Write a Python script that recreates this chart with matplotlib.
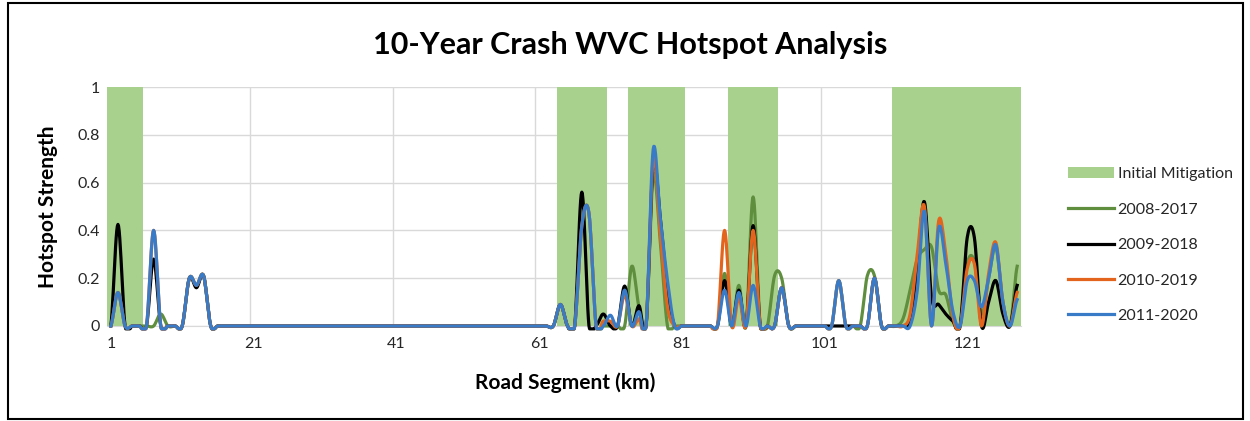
import numpy as np
import matplotlib
matplotlib.use('Agg')
import matplotlib.pyplot as plt
from matplotlib.patches import Rectangle

plt.rcParams['font.family'] = ['Lato', 'DejaVu Sans']

# Road segments (km) 1..128
segments = np.arange(1, 129)

# Initial mitigation zones (1 = mitigated)
mitigation = ([1] * 5 + [0] * 58 +          # 1-63
              [1] * 7 + [0] * 3 +           # 64-73
              [1] * 8 + [0] * 6 +           # 74-87
              [1] * 7 + [0] * 16 +          # 88-110
              [1] * 18)                     # 111-128

# Hotspot strength per segment, 16 values per row
y_2008_2017 = [
    0, 0.14, 0, 0, 0, 0, 0, 0.05, 0, 0, 0, 0.20, 0.17, 0.21, 0, 0,
    0, 0, 0, 0, 0, 0, 0, 0, 0, 0, 0, 0, 0, 0, 0, 0,
    0, 0, 0, 0, 0, 0, 0, 0, 0, 0, 0, 0, 0, 0, 0, 0,
    0, 0, 0, 0, 0, 0, 0, 0, 0, 0, 0, 0, 0, 0, 0, 0.09,
    0, 0, 0.42, 0.47, 0, 0, 0, 0, 0, 0.25, 0.08, 0, 0.63, 0.35, 0, 0,
    0, 0, 0, 0, 0, 0, 0.22, 0, 0.17, 0, 0.54, 0, 0, 0.21, 0.20, 0,
    0, 0, 0, 0, 0, 0, 0.19, 0, 0, 0, 0.21, 0.21, 0, 0, 0, 0.03,
    0.15, 0.28, 0.32, 0.33, 0.15, 0.13, 0.02, 0, 0.26, 0.27, 0.05, 0.20, 0.33, 0.10, 0, 0.25,
]
y_2009_2018 = [
    0, 0.425, 0, 0, 0, 0, 0.28, 0, 0, 0, 0, 0.20, 0.16, 0.21, 0, 0,
    0, 0, 0, 0, 0, 0, 0, 0, 0, 0, 0, 0, 0, 0, 0, 0,
    0, 0, 0, 0, 0, 0, 0, 0, 0, 0, 0, 0, 0, 0, 0, 0,
    0, 0, 0, 0, 0, 0, 0, 0, 0, 0, 0, 0, 0, 0, 0, 0.09,
    0, 0, 0.56, 0, 0, 0.05, 0, 0, 0.167, 0, 0.085, 0, 0.68, 0.45, 0.15, 0,
    0, 0, 0, 0, 0, 0, 0.19, 0, 0.15, 0, 0.42, 0, 0, 0, 0.16, 0,
    0, 0, 0, 0, 0, 0, 0, 0, 0, 0, 0, 0.20, 0, 0, 0, 0,
    0.02, 0.25, 0.52, 0.12, 0.09, 0.05, 0.02, 0, 0.37, 0.37, 0, 0.10, 0.19, 0.05, 0, 0.17,
]
y_2010_2019 = [
    0, 0.14, 0, 0, 0, 0, 0.40, 0, 0, 0, 0, 0.20, 0.17, 0.21, 0, 0,
    0, 0, 0, 0, 0, 0, 0, 0, 0, 0, 0, 0, 0, 0, 0, 0,
    0, 0, 0, 0, 0, 0, 0, 0, 0, 0, 0, 0, 0, 0, 0, 0,
    0, 0, 0, 0, 0, 0, 0, 0, 0, 0, 0, 0, 0, 0, 0, 0.09,
    0, 0, 0.42, 0.47, 0, 0.02, 0.02, 0, 0.13, 0, 0.03, 0, 0.70, 0.38, 0.08, 0,
    0, 0, 0, 0, 0, 0, 0.40, 0, 0.12, 0, 0.40, 0, 0, 0, 0.16, 0,
    0, 0, 0, 0, 0, 0, 0.19, 0, 0, 0, 0, 0.20, 0, 0, 0, 0,
    0.05, 0.30, 0.50, 0, 0.44, 0.30, 0.04, 0, 0.24, 0.26, 0, 0.22, 0.35, 0.10, 0, 0.14,
]
y_2011_2020 = [
    0, 0.14, 0, 0, 0, 0, 0.40, 0, 0, 0, 0, 0.20, 0.17, 0.21, 0, 0,
    0, 0, 0, 0, 0, 0, 0, 0, 0, 0, 0, 0, 0, 0, 0, 0,
    0, 0, 0, 0, 0, 0, 0, 0, 0, 0, 0, 0, 0, 0, 0, 0,
    0, 0, 0, 0, 0, 0, 0, 0, 0, 0, 0, 0, 0, 0, 0, 0.09,
    0, 0, 0.42, 0.47, 0, 0, 0.045, 0, 0.15, 0, 0.06, 0, 0.74, 0.45, 0.19, 0,
    0, 0, 0, 0, 0, 0, 0.15, 0, 0.14, 0, 0.17, 0, 0, 0, 0.16, 0,
    0, 0, 0, 0, 0, 0, 0.19, 0, 0, 0, 0, 0.20, 0, 0, 0, 0,
    0, 0.15, 0.48, 0, 0.41, 0.26, 0.06, 0, 0.19, 0.19, 0.08, 0.20, 0.34, 0.10, 0, 0.11,
]

series = [
    ('2008-2017', y_2008_2017, '#5E8E3E'),
    ('2009-2018', y_2009_2018, '#000000'),
    ('2010-2019', y_2010_2019, '#E3651D'),
    ('2011-2020', y_2011_2020, '#3A7BC8'),
]

x_ticks = [1, 21, 41, 61, 81, 101, 121]
y_ticks = [0, 0.2, 0.4, 0.6, 0.8, 1]
y_tick_labels = ['0', '0.2', '0.4', '0.6', '0.8', '1']


# Excel-like smoothed line (Catmull-Rom through the points)
def smooth(xv, yv, steps=12):
    xv = np.asarray(xv, float)
    yv = np.asarray(yv, float)
    p = np.concatenate([[yv[0]], yv, [yv[-1]]])
    t = np.linspace(0, 1, steps, endpoint=False)[:, None]
    p0, p1, p2, p3 = p[:-3], p[1:-2], p[2:-1], p[3:]
    ys = 0.5 * (2 * p1 + (-p0 + p2) * t + (2 * p0 - 5 * p1 + 4 * p2 - p3) * t**2
                + (-p0 + 3 * p1 - 3 * p2 + p3) * t**3)
    xs = xv[:-1] + t * (xv[1:] - xv[:-1])
    xs = np.append(xs.T.ravel(), xv[-1])
    ys = np.append(ys.T.ravel(), yv[-1])
    return xs, np.maximum(ys, -0.012)


fig = plt.figure(figsize=(12.5, 4.21), dpi=100)
ax = fig.add_axes([0.0858, 0.2257, 0.7308, 0.5676])

bars = ax.bar(segments, mitigation, width=1.0, color='#A9D18E', label='Initial Mitigation', zorder=2)

handles = [bars]
for name, vals, col in series:
    xs, ys = smooth(segments, vals)
    ln, = ax.plot(xs, ys, color=col, lw=2.3, label=name, zorder=3, clip_on=False,
                  solid_joinstyle='round')
    handles.append(ln)

ax.set_xlim(0.5, 128.5)
ax.set_ylim(0, 1)
ax.set_xticks(x_ticks)
ax.set_xticklabels([str(v) for v in x_ticks])
ax.set_xticks(np.arange(20.5, 128, 20), minor=True)
ax.set_yticks(y_ticks)
ax.set_yticklabels(y_tick_labels)
ax.tick_params(axis='both', which='both', length=0, labelsize=11.5, labelcolor='#262626')
ax.tick_params(axis='y', pad=5)
ax.tick_params(axis='x', pad=8)
ax.grid(axis='y', which='major', color='#D9D9D9', lw=1)
ax.grid(axis='x', which='minor', color='#D9D9D9', lw=1)
ax.set_axisbelow(True)
for s in ['top', 'right', 'left']:
    ax.spines[s].set_visible(False)
ax.spines['bottom'].set_color('#D9D9D9')

fig.text(0.504, 0.893, '10-Year Crash WVC Hotspot Analysis', ha='center', va='center',
         fontsize=22, fontweight='bold', color='black')
fig.text(0.0385, 0.508, 'Hotspot Strength', ha='center', va='center', rotation=90,
         fontsize=15, fontweight='bold', color='black')
fig.text(0.452, 0.090, 'Road Segment (km)', ha='center', va='center',
         fontsize=15, fontweight='bold', color='black')

leg = fig.legend(handles=handles, labels=[h.get_label() for h in handles],
                 loc='upper left', bbox_to_anchor=(0.843, 0.637), frameon=False,
                 fontsize=11.5, handlelength=2.9, handletextpad=0.2, labelspacing=1.33)
for t in leg.get_texts():
    t.set_color('#262626')

fig.patches.append(Rectangle((0.0064, 0.004), 0.988, 0.99, transform=fig.transFigure,
                             fill=False, edgecolor='black', lw=1.5))

fig.savefig('out.png', dpi=100)
